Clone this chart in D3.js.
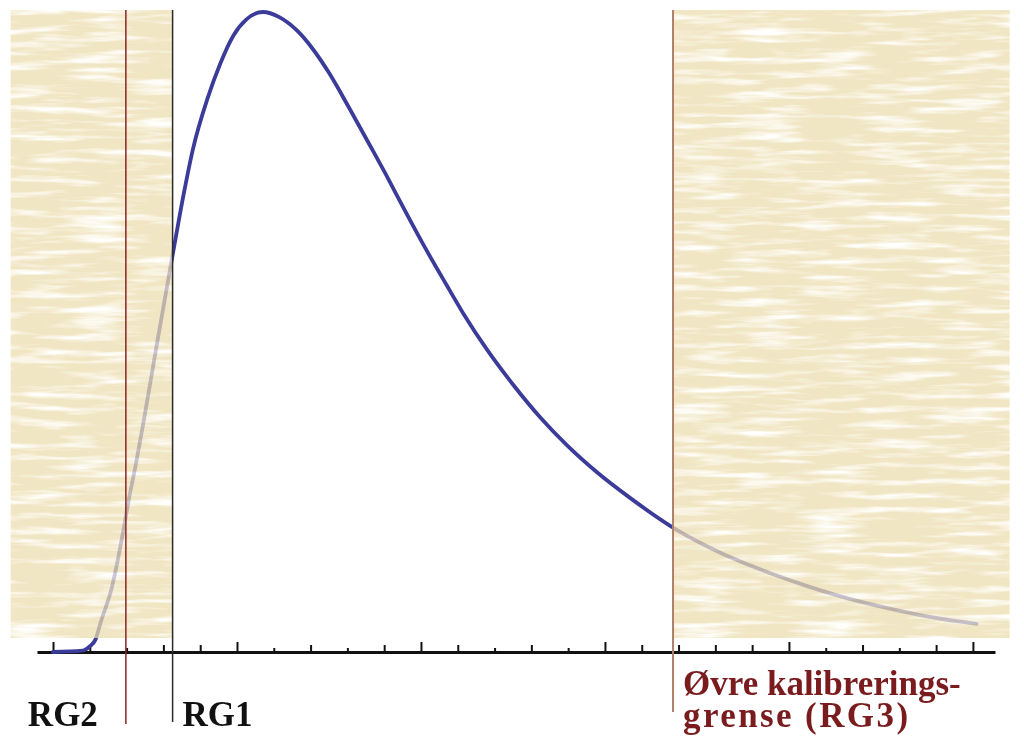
<!DOCTYPE html>
<html>
<head>
<meta charset="utf-8">
<script src="https://cdn.jsdelivr.net/npm/d3@7"></script>
<style>
  body { margin: 0; background: #fff; }
  svg { display: block; }
</style>
</head>
<body>
<div id="container"></div>
<script>
// curve: x in tick units, y in % of peak
const curveX = [0, 0.8, 1.0, 1.15, 1.3, 1.6, 1.9, 2.05, 2.25, 2.45, 2.85, 3.25, 3.55, 3.8, 4.2, 4.55, 4.9, 5.25, 5.7,
  6.15, 6.65, 7.05, 7.5, 8.05, 8.6, 9.15, 9.45, 10.05, 10.7, 11.15, 11.8, 12.5, 13.25, 13.95, 14.8, 15.7, 16.75,
  17.85, 18.65, 19.55, 20.5, 21.65, 22.8, 23.9, 25.1];
const curveY = [0, 0.2, 0.9, 1.9, 4.7, 10.1, 18.6, 23.5, 29.3, 35.6, 49.0, 62.0, 71.5, 78.5, 86.5, 92.0, 96.3, 98.8, 100,
  99.2, 97.0, 94.3, 90.5, 85.0, 79.3, 73.5, 70.2, 63.8, 57.3, 52.9, 47.2, 41.8, 36.6, 32.4, 28.0, 24.0, 19.8,
  16.3, 14.2, 12.2, 10.3, 8.3, 6.7, 5.4, 4.4];

const tickValues = [0, 1, 2, 3, 4, 5, 6, 7, 8, 9, 10, 11, 12, 13, 14, 15, 16, 17, 18, 19, 20, 21, 22, 23, 24, 25];
const tickKinds = ["major", "mid", "short", "mid", "mid", "major", "short", "mid", "short", "mid", "major", "mid", "short",
  "mid", "short", "major", "mid", "mid", "mid", "mid", "major", "short", "mid", "short", "mid", "major"];

const guideNames = ["RG2", "RG1", "RG3"];
const guidePositions = [1.98, 3.25, 16.85];
const shadeRanges = [[-1.15, 3.25], [16.85, 26.0]];

const width = 1024, height = 742;

const x = d3.scaleLinear().domain([-0.435, 25.6]).range([37, 995]);
const y = d3.scaleLinear().domain([0, 100]).range([652, 12]);
const axisY = y(0);
const topY = y(100.3);

const svg = d3.select("#container").append("svg")
  .attr("width", width)
  .attr("height", height)
  .style("background", "#fff");

// paper-like streak texture
const defs = svg.append("defs");
const filt = defs.append("filter").attr("id", "streaks")
  .attr("x", 0).attr("y", 0).attr("width", 1).attr("height", 1);
filt.append("feTurbulence")
  .attr("type", "fractalNoise")
  .attr("baseFrequency", "0.015 0.14")
  .attr("numOctaves", 3)
  .attr("seed", 11);
filt.append("feColorMatrix")
  .attr("type", "matrix")
  .attr("values", "0 0 0 0 1  0 0 0 0 1  0 0 0 0 0.97  3.0 0 0 0 -1.4");

const tickSize = { major: 10, mid: 7, short: 4 };
["major", "mid", "short"].forEach((k, i) => {
  const g = svg.append("g")
    .attr("transform", `translate(0,${axisY})`)
    .call(d3.axisTop(x)
      .tickValues(tickValues.filter((t, j) => tickKinds[j] === k))
      .tickSize(tickSize[k])
      .tickSizeOuter(0)
      .tickFormat(""));
  g.selectAll(".tick line").attr("stroke", "#111").attr("stroke-width", 2);
  if (i === 0) g.select(".domain").attr("stroke", "#111").attr("stroke-width", 3);
  else g.select(".domain").remove();
});

const data = curveX.map((v, i) => [v, curveY[i]]);
const line = d3.line()
  .x(d => x(d[0]))
  .y(d => y(d[1]))
  .curve(d3.curveMonotoneX);

svg.append("path")
  .datum(data)
  .attr("fill", "none")
  .attr("stroke", "#3b3b99")
  .attr("stroke-width", 3.8)
  .attr("stroke-linejoin", "round")
  .attr("stroke-linecap", "round")
  .attr("d", line);

// shaded regions laid over the curve
const shade = svg.append("g").attr("opacity", 0.74);
shadeRanges.forEach(r => {
  const sx = x(r[0]), sw = x(r[1]) - x(r[0]);
  shade.append("rect")
    .attr("x", sx).attr("y", topY)
    .attr("width", sw).attr("height", axisY - 14 - topY)
    .attr("fill", "#eddeb0");
  shade.append("rect")
    .attr("x", sx).attr("y", topY)
    .attr("width", sw).attr("height", axisY - 14 - topY)
    .attr("fill", "#fff")
    .attr("filter", "url(#streaks)");
});

const guideStyle = {
  RG2: { color: "#8c2323", w: 1.5, bottom: 72 },
  RG1: { color: "#2a2a2a", w: 1.5, bottom: 70 },
  RG3: { color: "#b08068", w: 2, bottom: 60 }
};
guideNames.forEach((n, i) => {
  const s = guideStyle[n];
  svg.append("line")
    .attr("x1", x(guidePositions[i])).attr("x2", x(guidePositions[i]))
    .attr("y1", topY).attr("y2", axisY + s.bottom)
    .attr("stroke", s.color)
    .attr("stroke-width", s.w);
});

const labelFont = "'Liberation Serif', 'Times New Roman', serif";
svg.append("text")
  .attr("x", x(guidePositions[0]) - 28)
  .attr("y", axisY + 74)
  .attr("text-anchor", "end")
  .attr("font-family", labelFont)
  .attr("font-weight", "bold")
  .attr("font-size", 35)
  .attr("fill", "#111")
  .text("RG2");

svg.append("text")
  .attr("x", x(guidePositions[1]) + 10)
  .attr("y", axisY + 74)
  .attr("font-family", labelFont)
  .attr("font-weight", "bold")
  .attr("font-size", 35)
  .attr("fill", "#111")
  .text("RG1");

const rg3 = svg.append("text")
  .attr("x", x(guidePositions[2]) + 10)
  .attr("y", axisY + 43)
  .attr("font-family", labelFont)
  .attr("font-weight", "bold")
  .attr("font-size", 35)
  .attr("fill", "#7a1b1e");
rg3.append("tspan").text("Øvre kalibrerings-");
rg3.append("tspan")
  .attr("x", x(guidePositions[2]) + 10)
  .attr("dy", 32)
  .attr("letter-spacing", 2.4)
  .text("grense (RG3)");
</script>
</body>
</html>
